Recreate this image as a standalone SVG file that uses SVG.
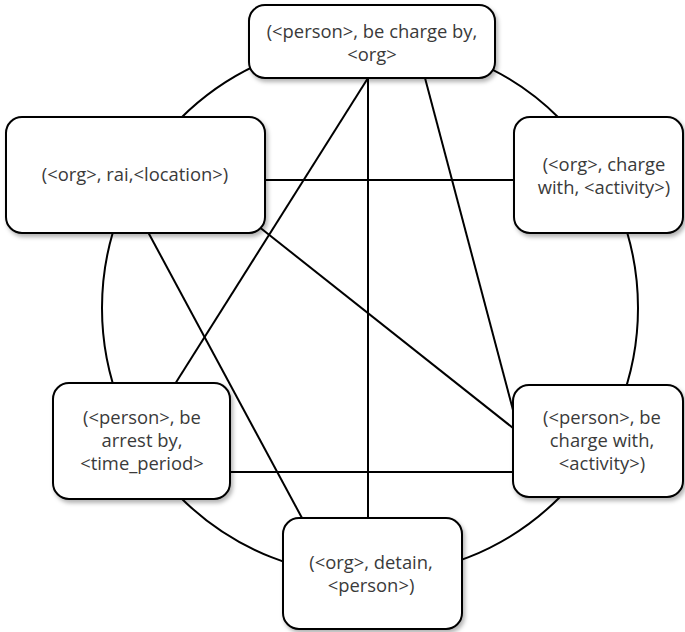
<svg xmlns="http://www.w3.org/2000/svg" width="685" height="632" viewBox="0 0 685 632">
<style>
.node rect{fill:#fff;stroke:#000;stroke-width:2;filter:url(#sh)}
.node text{font-family:"Open Sans","Liberation Sans",sans-serif;font-size:18.4px;fill:#3a3a3a;text-anchor:middle}
#connectors line,#connectors circle{stroke:#000;stroke-width:2;fill:none}
</style>
<defs>
<filter id="sh" x="-10%" y="-10%" width="125%" height="130%">
<feDropShadow dx="2" dy="3" stdDeviation="2" flood-color="#000" flood-opacity="0.3"/>
</filter>
</defs>
<rect width="685" height="632" fill="#fff"/>
<g id="connectors">
<circle cx="370" cy="308" r="268"/>
<line x1="368" y1="78" x2="368" y2="518"/>
<line x1="368" y1="78" x2="175" y2="384"/>
<line x1="425" y1="78" x2="513" y2="410"/>
<line x1="265" y1="180" x2="514" y2="180"/>
<line x1="258" y1="226" x2="513" y2="428"/>
<line x1="148" y1="232" x2="302" y2="518"/>
<line x1="230" y1="472" x2="513" y2="472"/>
</g>
<g id="node-top" class="node">
<rect x="249" y="5" width="246" height="73" rx="16"/>
<text x="372" y="38">(&lt;person&gt;, be charge by,</text>
<text x="372" y="61">&lt;org&gt;</text>
</g>
<g id="node-left" class="node">
<rect x="6" y="117" width="259" height="116" rx="16"/>
<text x="135" y="181">(&lt;org&gt;, rai,&lt;location&gt;)</text>
</g>
<g id="node-right" class="node">
<rect x="514" y="117" width="169" height="116" rx="16"/>
<text x="604" y="171">(&lt;org&gt;, charge</text>
<text x="604" y="194">with, &lt;activity&gt;)</text>
</g>
<g id="node-bottom-left" class="node">
<rect x="53" y="383" width="177" height="116" rx="16"/>
<text x="142" y="424">(&lt;person&gt;, be</text>
<text x="142" y="447">arrest by,</text>
<text x="142" y="470">&lt;time_period&gt;</text>
</g>
<g id="node-bottom-right" class="node">
<rect x="513" y="385" width="170" height="112" rx="16"/>
<text x="602" y="424">(&lt;person&gt;, be</text>
<text x="602" y="447">charge with,</text>
<text x="602" y="470">&lt;activity&gt;)</text>
</g>
<g id="node-bottom" class="node">
<rect x="283" y="518" width="179" height="111" rx="16"/>
<text x="371" y="569">(&lt;org&gt;, detain,</text>
<text x="371" y="592">&lt;person&gt;)</text>
</g>
</svg>
